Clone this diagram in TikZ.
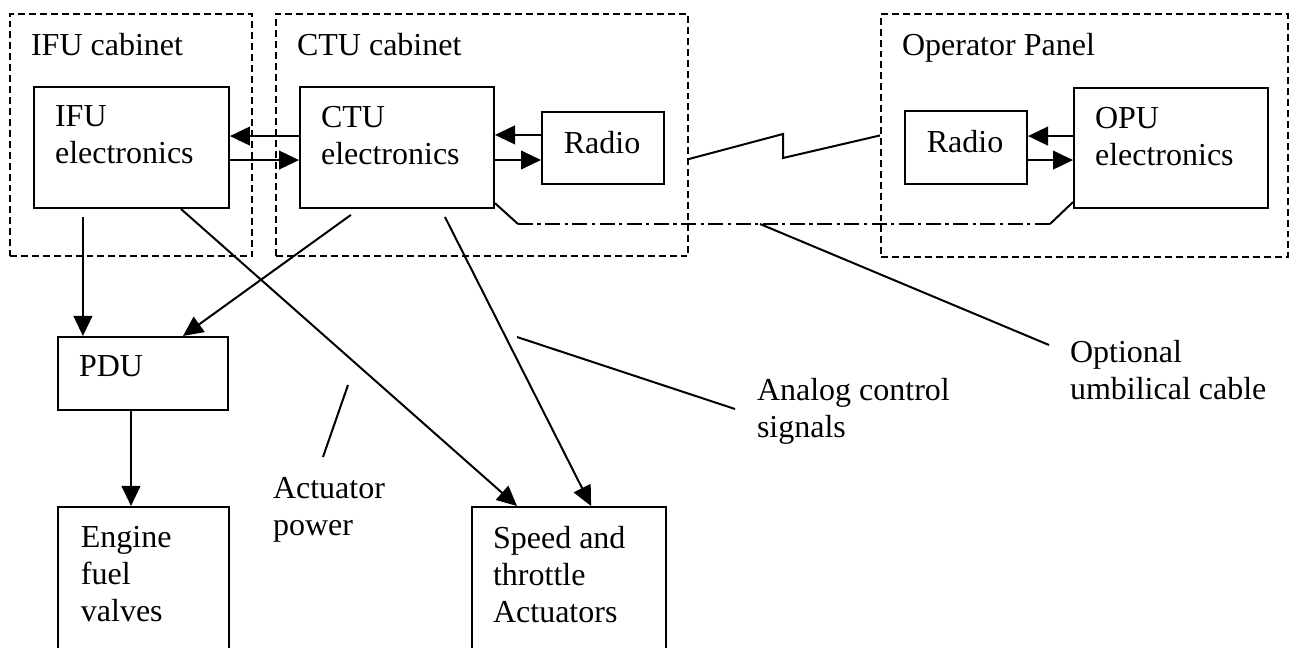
\documentclass[tikz,border=0pt]{standalone}
\usepackage{fontspec}
\setmainfont{Liberation Serif}
\usetikzlibrary{positioning,arrows.meta}
\newcommand{\boxFont}[0]{\fontsize{12}{13.9}\selectfont}
\newcommand{\insetX}[0]{7.9pt}
\newcommand{\insetY}[0]{7.1pt}

\begin{document}
\begin{tikzpicture}[x=0.375pt, y=-0.375pt, line width=0.75pt]
  \tikzset{unit/.style={draw, anchor=north west, inner sep=0pt},
           cabinet/.style={unit, dash pattern=on 2.6pt off 1.5pt},
           boxtext/.style={font=\boxFont, align=left, inner sep=0pt},
           arr/.style={-{Triangle[length=7.5pt,width=7pt]}},
           cable/.style={dash pattern=on 5.6pt off 1.7pt on 1.2pt off 1.7pt}}
  \useasboundingbox (0,0) rectangle (1291,648);
  \clip (0,0) rectangle (1291,648);

  \node[cabinet, minimum width=90.75pt, minimum height=90.75pt] (ifucab) at (9,13) {};
  \node[cabinet, minimum width=154.5pt, minimum height=90.75pt] (ctucab) at (275,13) {};
  \node[cabinet, minimum width=152.6pt, minimum height=91.1pt] (opcab) at (880,13) {};
  \node[boxtext, below right=\insetY and \insetX of ifucab.north west] (ifucabtxt) {IFU cabinet};
  \node[boxtext, below right=\insetY and \insetX of ctucab.north west] (ctucabtxt) {CTU cabinet};
  \node[boxtext, below right=\insetY and \insetX of opcab.north west] (opcabtxt) {Operator Panel};

  \node[unit, minimum width=73.1pt, minimum height=45.4pt] (ifu) at (33,86) {};
  \node[unit, minimum width=72.75pt, minimum height=45.4pt] (ctu) at (299,86) {};
  \node[unit, minimum width=45.75pt, minimum height=27pt] (radA) at (541,111) {};
  \node[unit, minimum width=45.75pt, minimum height=27.4pt] (radB) at (904,110) {};
  \node[unit, minimum width=72.75pt, minimum height=45pt] (opu) at (1073,87) {};
  \node[unit, minimum width=63.75pt, minimum height=27.4pt] (pdu) at (57,336) {};
  \node[unit, minimum width=64.1pt, minimum height=60pt] (engine) at (57,506) {};
  \node[unit, minimum width=72.75pt, minimum height=60pt] (speed) at (471,506) {};

  \node[boxtext, below right=\insetY and \insetX of ifu.north west] (ifutxt) {IFU\\electronics};
  \node[boxtext, below right=\insetY and \insetX of ctu.north west] (ctutxt) {CTU\\electronics};
  \node[boxtext, below right=\insetY and 8.2pt of radA.north west] (radAtxt) {Radio};
  \node[boxtext, below right=\insetY and 8.2pt of radB.north west] (radBtxt) {Radio};
  \node[boxtext, below right=\insetY and \insetX of opu.north west] (oputxt) {OPU\\electronics};
  \node[boxtext, below right=\insetY and \insetX of pdu.north west] (pdutxt) {PDU};
  \node[boxtext, below right=\insetY and 8.6pt of engine.north west] (enginetxt) {Engine\\fuel\\valves};
  \node[boxtext, below right=\insetY and \insetX of speed.north west] (speedtxt) {Speed and\\throttle\\Actuators};

  \node[boxtext, anchor=north west] (acttxt) at (272,476) {Actuator\\power};
  \node[boxtext, anchor=north west] (anatxt) at (756,377) {Analog control\\signals};
  \node[boxtext, anchor=north west] (umbtxt) at (1069,339) {Optional\\umbilical cable};

  \draw[arr] ([yshift=4.3pt]ctu.west) -- ([yshift=4.3pt]ifu.east);
  \draw[arr] ([yshift=-4.7pt]ifu.east) -- ([yshift=-4.7pt]ctu.west);
  \draw[arr] ([yshift=4.9pt]radA.west) -- ([yshift=4.9pt]radA.west -| ctu.east);
  \draw[arr] ([yshift=-4.5pt]radA.west -| ctu.east) -- ([yshift=-4.5pt]radA.west);
  \draw[arr] ([yshift=4.3pt]radB.east -| opu.west) -- ([yshift=4.3pt]radB.east);
  \draw[arr] ([yshift=-4.7pt]radB.east) -- ([yshift=-4.7pt]radB.east -| opu.west);

  \draw[arr] ([xshift=-18.2pt,yshift=-3pt]ifu.south) -- ([xshift=-18.2pt]ifu.south |- pdu.north);
  \draw[arr] ([xshift=-17.3pt,yshift=-2.2pt]ctu.south) -- ([xshift=15pt]pdu.north);
  \draw[arr] ([xshift=-4.5pt]pdu.south) -- ([xshift=-4.5pt]pdu.south |- engine.north);
  \draw[arr] ([xshift=18.6pt]ifu.south) -- ([xshift=-19.5pt]speed.north);
  \draw[arr] ([xshift=18pt,yshift=-3pt]ctu.south) -- ([xshift=8.3pt]speed.north);

  \draw ([yshift=-9pt]ctucab.east) -- (783,134) -- (783,158) -- (opcab.west);

  \coordinate (cab1) at (518,224);
  \coordinate (cab2) at (1050,224);
  \draw ([yshift=2.2pt]ctu.south east) -- (cab1);
  \draw[cable] (cab1) -- (cab2);
  \draw (cab2) -- ([yshift=2.6pt]opu.south west);

  \coordinate (umb1) at (760,224);
  \coordinate (umb2) at (1049,345);
  \coordinate (ana1) at (517,337);
  \coordinate (ana2) at (735,409);
  \coordinate (act1) at (348,385);
  \coordinate (act2) at (323,457);
  \draw (umb1) -- (umb2);
  \draw (ana1) -- (ana2);
  \draw (act1) -- (act2);
\end{tikzpicture}
\end{document}
